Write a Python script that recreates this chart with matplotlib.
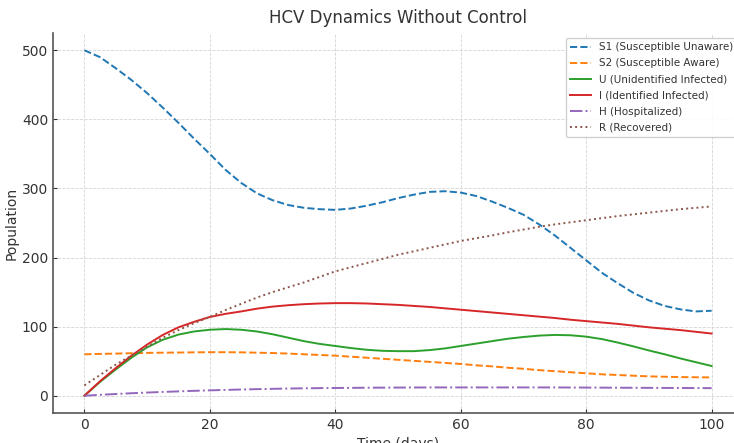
import numpy as np
import matplotlib.pyplot as plt

# values, every 2.5 days
t = np.arange(0, 100.1, 2.5)
S1 = [500, 490, 474, 457, 438, 417, 395, 372, 350, 327, 308, 293, 283, 276, 272, 270, 269,
      271, 275, 280, 286, 291, 295, 296, 294, 289, 281, 272, 262, 248, 232, 214, 196,
      178, 163, 149, 138, 130, 125, 122, 123]
S2 = [60, 60.5, 61, 61.5, 62, 62.3, 62.5, 62.8, 63, 63, 62.8, 62.3, 61.8, 61, 60, 59, 58,
      56.5, 55, 53.5, 52, 50.5, 49, 47.5, 46, 44, 42.5, 40.5, 39, 37, 35.5, 34, 32.5,
      31, 30, 29, 28, 27.5, 27, 26.7, 26.5]
U = [0, 20, 38, 55, 70, 81, 88.5, 93, 95.5, 96.5, 95.5, 93, 89, 84, 79, 75, 72,
     69, 66.5, 65, 64.5, 64.5, 66, 68.5, 72, 75.5, 79, 82.5, 85, 87, 88, 87.5, 85.5,
     82, 77, 71.5, 65.5, 60, 54, 48.5, 43]
I = [0, 21, 40, 58, 74, 88, 99, 107, 114, 118.5, 122, 126, 129, 131, 132.5, 133.5, 134,
     134, 133.5, 132.5, 131.5, 130, 128.5, 126.5, 124.5, 122.5, 120.5, 118.5, 116.5, 114.5, 112.5, 110, 108,
     106, 104, 101.5, 99, 97, 95, 92.5, 90]
H = [0, 1.3, 2.5, 3.6, 4.6, 5.5, 6.3, 7.1, 7.8, 8.4, 9, 9.5, 10, 10.4, 10.7, 11, 11.2,
     11.4, 11.6, 11.7, 11.8, 11.9, 12, 12, 12, 12, 12, 12, 12, 12, 12, 11.9, 11.8,
     11.7, 11.6, 11.5, 11.4, 11.3, 11.2, 11.1, 11]
R = [15, 30, 45, 58, 71, 84, 95, 105, 114, 124, 133, 142, 150, 157, 164, 172, 180,
     186, 192, 198, 204, 209, 214, 219, 224, 228, 232, 236.5, 240.5, 244.5, 248, 251, 254,
     257, 260, 262.5, 265, 267.5, 270, 272, 274]

labels = ['S1 (Susceptible Unaware)', 'S2 (Susceptible Aware)', 'U (Unidentified Infected)',
          'I (Identified Infected)', 'H (Hospitalized)', 'R (Recovered)']

txt = '#333333'
plt.rcParams['text.color'] = txt
plt.rcParams['axes.labelcolor'] = txt
plt.rcParams['xtick.color'] = txt
plt.rcParams['ytick.color'] = txt

fig = plt.figure(figsize=(7.34, 4.43), dpi=100)
# the reference is cropped on the right, so the axes run a bit past the edge
ax = fig.add_axes([53 / 734, 1 - 413 / 443, 690 / 734, (413 - 33) / 443])

ax.plot(t, S1, '--', color='#1f77b4', lw=1.4, label=labels[0])
ax.plot(t, S2, '--', color='#ff7f0e', lw=1.4, label=labels[1])
ax.plot(t, U, '-', color='#2ca02c', lw=1.4, label=labels[2])
ax.plot(t, I, '-', color='#d62728', lw=1.4, label=labels[3])
ax.plot(t, H, '-.', color='#9467bd', lw=1.4, label=labels[4])
ax.plot(t, R, ':', color='#8c564b', lw=1.4, label=labels[5])

ax.set_xlim(-5, 105)
ax.set_ylim(-25, 525)
ax.set_xticks([0, 20, 40, 60, 80, 100])
ax.set_yticks([0, 100, 200, 300, 400, 500])
ax.grid(True, ls='--', lw=0.6, color='#d5d5d5')
ax.set_axisbelow(True)
for s in ['top', 'right']:
    ax.spines[s].set_visible(False)
for s in ['left', 'bottom']:
    ax.spines[s].set_color('#555555')
    ax.spines[s].set_linewidth(1.2)
ax.tick_params(direction='in', length=3, labelsize=10)

ax.set_title('HCV Dynamics Without Control', fontsize=12, pad=7)
ax.set_xlabel('Time (days)', fontsize=10, labelpad=4)
ax.set_ylabel('Population', fontsize=10, labelpad=2)
ax.legend(loc='upper right', fontsize=7.5, framealpha=0.9, labelspacing=0.58)

fig.savefig('out.png', dpi=100)
